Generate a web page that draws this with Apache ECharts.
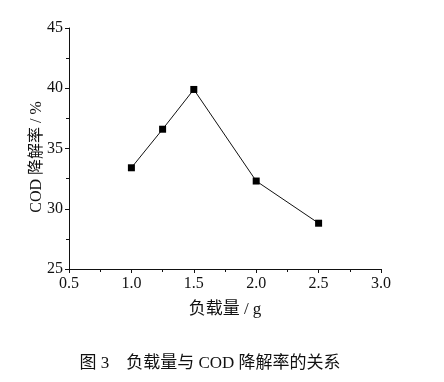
<!DOCTYPE html>
<html><head><meta charset="utf-8">
<script src="https://cdn.jsdelivr.net/npm/echarts@6/dist/echarts.min.js"></script>
<style>html,body{margin:0;padding:0;background:#fff}#c{width:444px;height:382px}</style>
</head><body><div id="c"></div>
<script>
const loads = [1.0, 1.25, 1.5, 2.0, 2.5];
const codRemoval = [33.4, 36.6, 39.9, 32.3, 28.8];
const xAxisTitle = '负载量 / g';
const yAxisTitle = 'COD 降解率 / %';
const caption = '图 3    负载量与 COD 降解率的关系';

const serif = '"Liberation Serif", "Noto Sans CJK SC", serif';
const chart = echarts.init(document.getElementById('c'));
chart.setOption({
  animation: false,
  backgroundColor: '#fff',
  grid: {left: 69, right: 63, top: 28, bottom: 113, containLabel: false},
  xAxis: {
    type: 'value', min: 0.5, max: 3.0, interval: 0.5,
    name: xAxisTitle, nameLocation: 'middle', nameGap: 32,
    nameTextStyle: {fontFamily: serif, fontSize: 17, color: '#111'},
    axisLine: {show: true, onZero: false, lineStyle: {color: '#111', width: 1}},
    axisTick: {show: true, inside: false, length: 4, lineStyle: {color: '#111'}},
    minorTick: {show: true, splitNumber: 2, length: 3, lineStyle: {color: '#111'}},
    splitLine: {show: false},
    axisLabel: {fontFamily: serif, fontSize: 16, color: '#111', margin: 7,
      formatter: v => v.toFixed(1)}
  },
  yAxis: {
    type: 'value', min: 25, max: 45, interval: 5,
    axisLine: {show: true, onZero: false, lineStyle: {color: '#111', width: 1}},
    axisTick: {show: true, inside: false, length: 4, lineStyle: {color: '#111'}},
    minorTick: {show: true, splitNumber: 2, length: 3, lineStyle: {color: '#111'}},
    splitLine: {show: false},
    axisLabel: {fontFamily: serif, fontSize: 16, color: '#111', margin: 6}
  },
  series: [{
    type: 'line',
    data: loads.map((x, i) => [x, codRemoval[i]]),
    symbol: 'rect', symbolSize: 7,
    itemStyle: {color: '#000'},
    lineStyle: {color: '#111', width: 1}
  }],
  graphic: [
    {type: 'text', x: 37, y: 157, rotation: Math.PI / 2,
      style: {text: yAxisTitle, font: '16px ' + serif, fill: '#111',
        align: 'center', verticalAlign: 'middle'}},
    {type: 'text', x: 210, y: 364,
      style: {text: caption, font: '17px ' + serif, fill: '#111',
        align: 'center', verticalAlign: 'middle'}}
  ]
});
</script></body></html>
